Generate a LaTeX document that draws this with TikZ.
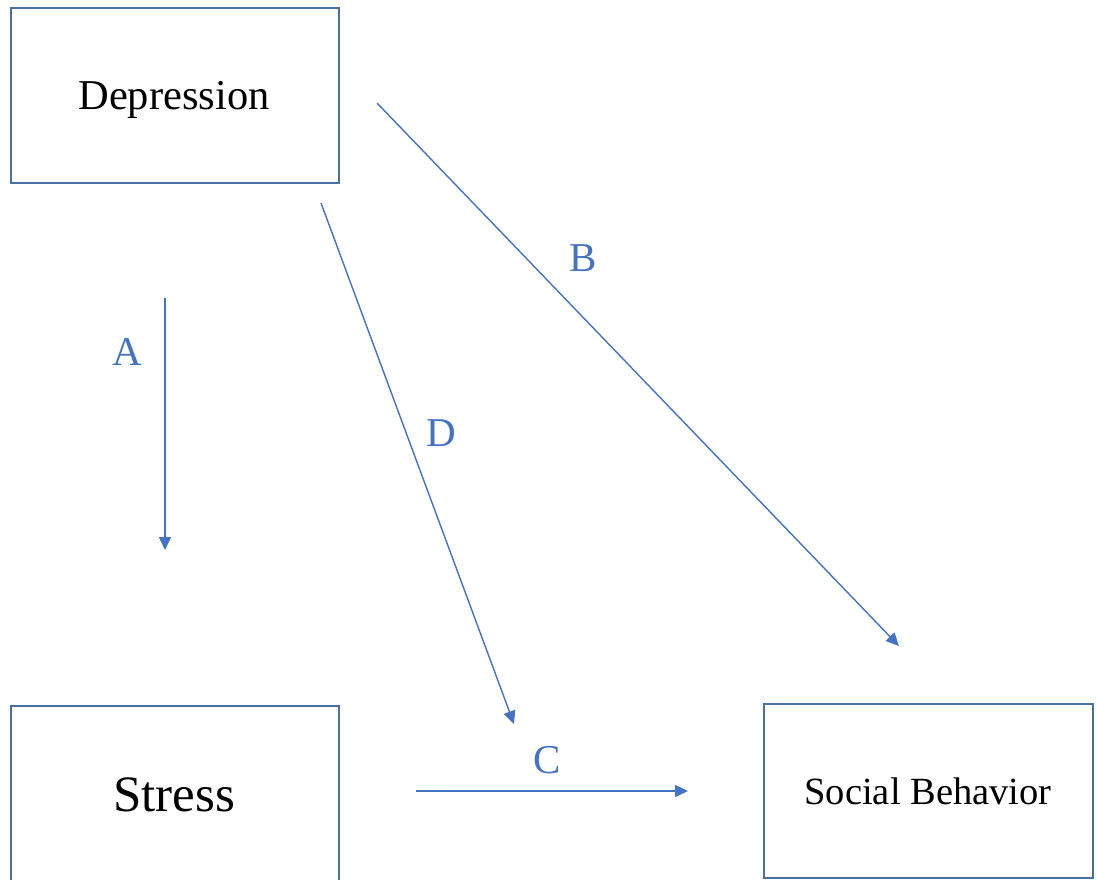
\documentclass[tikz,border=0pt]{standalone}
\usepackage{fontspec}
\setmainfont{Liberation Serif}
\usetikzlibrary{arrows.meta}
\definecolor{boxblue}{HTML}{4A6FA5}
\definecolor{arrblue}{HTML}{4472C4}
\tikzset{
  varbox/.style={draw=boxblue, line width=1.4pt, rectangle, inner sep=0pt, text=black},
  conn/.style={draw=arrblue, line width=1.4pt, -{Triangle[length=13pt,width=12pt]}},
  lbl/.style={text=arrblue, font=\fontsize{41}{48}\selectfont, inner sep=0pt}
}
\begin{document}
\begin{tikzpicture}[x=1pt,y=-1pt]
\useasboundingbox (0,0) rectangle (1097,879);
\clip (0,0) rectangle (1097,879);
\fill[white] (0,0) rectangle (1097,879);
% boxes
\node[varbox, minimum width=328pt, minimum height=175pt] (dep) at (175,95.5) {};
\node[font=\fontsize{42.5}{50}\selectfont] (deptxt) at (174,100) {Depression};
\node[varbox, minimum width=328pt, minimum height=180pt] (str) at (175,796) {};
\node[font=\fontsize{51}{60}\selectfont] (strtxt) at (174,795) {Stress};
\node[varbox, minimum width=329pt, minimum height=174pt] (soc) at (928.5,791) {};
\node[font=\fontsize{38.5}{46}\selectfont] (soctxt) at (928,791) {Social Behavior};
% connector endpoints
\coordinate (a1) at (165,298);
\coordinate (a2) at (165,550);
\coordinate (b1) at (377,103);
\coordinate (b2) at (899,646);
\coordinate (d1) at (321,203);
\coordinate (d2) at (514,724);
\coordinate (c1) at (416,791);
\coordinate (c2) at (688,791);
% connectors
\draw[conn] (a1) -- (a2);
\draw[conn] (b1) -- (b2);
\draw[conn] (d1) -- (d2);
\draw[conn] (c1) -- (c2);
% labels
\node[lbl] (la) at (127,352) {A};
\node[lbl] (lb) at (583,258) {B};
\node[lbl] (ld) at (441,433) {D};
\node[lbl] (lc) at (547,760) {C};
\end{tikzpicture}
\end{document}
